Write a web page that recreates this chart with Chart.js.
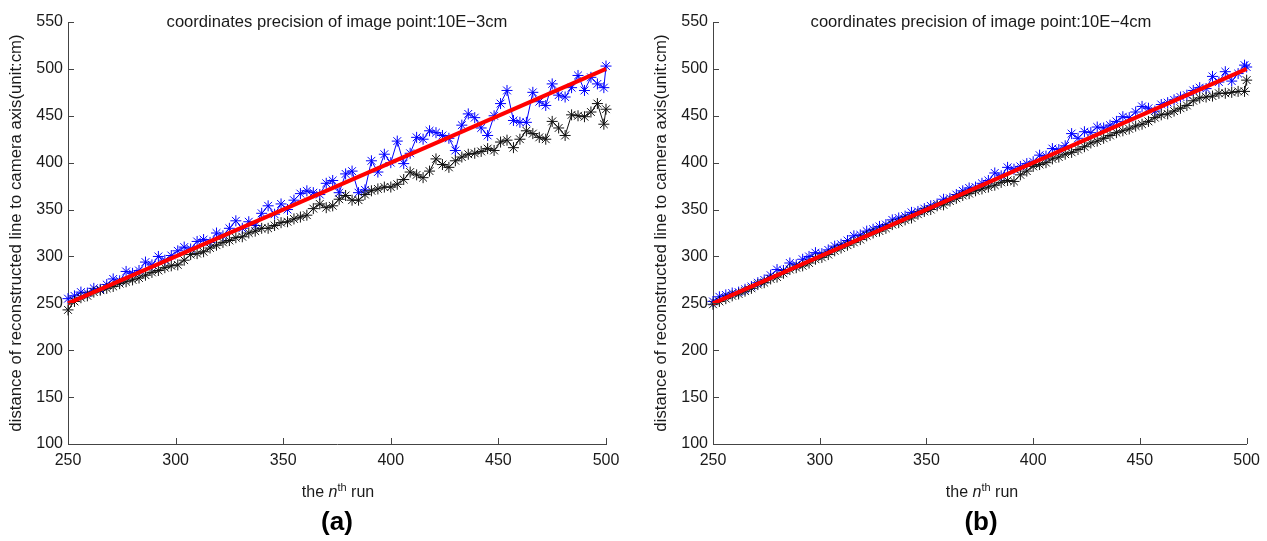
<!DOCTYPE html>
<html>
<head>
<meta charset="utf-8">
<script src="https://cdn.jsdelivr.net/npm/chart.js@4.4.1/dist/chart.umd.min.js"></script>
<style>
html,body{margin:0;padding:0;background:#fff;width:1267px;height:541px;overflow:hidden;font-family:"Liberation Sans",Arial,sans-serif;}
.panel{position:absolute;top:0;height:541px;}
.panel canvas{position:absolute;left:0;top:0;}
.txt{position:absolute;white-space:nowrap;transform:translateX(-50%);color:#1a1a1a;}
.title{top:12px;font-size:16.6px;}
.xlab{top:483px;font-size:16px;}
.xlab sup{font-size:11px;vertical-align:6px;line-height:0;}
.plab{top:506px;font-size:26px;font-weight:bold;color:#000;}
</style>
</head>
<body>
<div class="panel" id="pa" style="left:0;width:633px;"><canvas id="ca" width="633" height="541"></canvas></div>
<div class="panel" id="pb" style="left:645px;width:622px;"><canvas id="cb" width="622" height="541"></canvas></div>

<div class="txt title" style="left:337px;">coordinates precision of image point:10E−3cm</div>
<div class="txt title" style="left:981px;">coordinates precision of image point:10E−4cm</div>
<div class="txt xlab" style="left:338px;">the <i>n</i><sup>th</sup> run</div>
<div class="txt xlab" style="left:982px;">the <i>n</i><sup>th</sup> run</div>
<div class="txt plab" style="left:337px;">(a)</div>
<div class="txt plab" style="left:981px;">(b)</div>

<script>
// ---- data ----
const runs = [250,253,256,259,262,265,268,271,274,277,280,283,286,289,292,295,298,301,304,307,310,313,316,319,322,325,328,331,334,337,340,343,346,349,352,355,358,361,364,367,370,373,376,379,382,385,388,391,394,397,400,403,406,409,412,415,418,421,424,427,430,433,436,439,442,445,448,451,454,457,460,463,466,469,472,475,478,481,484,487,490,493,496,499,500];

const blueA = [255,258,262,261,266,265,270,276,274,284,
  282,285,294,291,300,296,301,306,310,308,
  316,318,315,325,322,330,338,330,337,333,
  346,354,345,356,350,360,367,370,368,366,
  378,381,368,388,391,368,371,402,390,409,
  400,423,399,410,427,425,434,432,429,426,
  413,440,452,448,437,429,450,463,477,445,
  443,443,475,465,461,484,472,470,480,493,
  477,491,484,480,503];

const blackA = [243,252,256,258,262,264,266,268,271,273,
  275,277,280,283,285,288,290,291,296,302,
  303,305,309,312,315,317,320,321,325,327,
  330,330,333,336,337,340,342,344,351,356,
  352,354,361,365,360,360,366,370,372,374,
  374,377,382,390,387,384,391,404,398,395,
  402,406,409,410,412,415,413,422,424,416,
  425,434,431,427,425,444,437,429,451,450,
  449,454,463,441,457];

const blueB = [252,257,259,261,262,265,268,272,275,280,
  286,285,293,291,297,300,304,303,307,311,
  313,317,322,323,327,329,332,334,339,341,
  343,347,348,351,354,356,361,362,366,370,
  373,374,378,381,389,386,395,393,396,399,
  401,408,407,415,414,418,431,426,433,432,
  438,437,440,444,449,448,454,460,458,455,
  462,464,467,470,472,477,480,479,492,486,
  497,487,495,504,502];

const blackB = [249,252,255,258,260,263,266,270,272,276,
  278,282,286,288,290,293,297,299,302,306,
  309,312,315,318,322,325,327,330,334,336,
  339,341,345,348,350,354,355,359,362,365,
  367,370,372,374,376,379,381,380,387,391,
  396,398,400,404,406,409,411,414,417,421,
  423,426,429,432,434,436,439,441,444,448,
  451,452,455,458,461,466,469,470,471,474,
  474,475,476,476,488];

const refX = [250, 500];
const refY = [250, 500];

const xTicks = [250,300,350,400,450,500];
const yTicks = [100,150,200,250,300,350,400,450,500,550];

const yAxisTitle = "distance of reconstructed line to camera axis(unit:cm)";

// ---- chart ----
Chart.defaults.font.family = '"Liberation Sans", Arial, sans-serif';
Chart.defaults.font.size = 16;
Chart.defaults.color = '#1a1a1a';

const pts = (xs, ys) => xs.map((x, i) => ({x: x, y: ys[i]}));

const inwardTicks = {
  id: 'inwardTicks',
  afterDatasetsDraw(chart) {
    const {ctx, chartArea: a, scales: {x, y}} = chart;
    ctx.save();
    ctx.strokeStyle = '#444';
    ctx.lineWidth = 1;
    ctx.beginPath();
    xTicks.forEach(v => {
      const px = Math.round(x.getPixelForValue(v)) + 0.5;
      ctx.moveTo(px, a.bottom); ctx.lineTo(px, a.bottom - 6);
    });
    yTicks.forEach(v => {
      const py = Math.round(y.getPixelForValue(v)) + 0.5;
      ctx.moveTo(a.left, py); ctx.lineTo(a.left + 6, py);
    });
    ctx.stroke();
    ctx.restore();
  }
};

function makeChart(id, blue, black, rightPad) {
  return new Chart(document.getElementById(id), {
    type: 'scatter',
    data: {
      datasets: [
        { data: pts(refX, refY), showLine: true, borderColor: '#ff0000', borderWidth: 4,
          pointRadius: 0, clip: false },
        { data: pts(runs, black), showLine: true, borderColor: '#111', borderWidth: 1,
          pointStyle: 'star', pointRadius: 5.5, pointBorderColor: '#111', pointBorderWidth: 1,
          pointBackgroundColor: '#111', clip: false },
        { data: pts(runs, blue), showLine: true, borderColor: '#0000ff', borderWidth: 1,
          pointStyle: 'star', pointRadius: 5.5, pointBorderColor: '#0000ff', pointBorderWidth: 1,
          pointBackgroundColor: '#0000ff', clip: false }
      ]
    },
    options: {
      responsive: false,
      animation: false,
      devicePixelRatio: 1,
      layout: { padding: { left: 0, right: rightPad, top: 22, bottom: 67 } },
      plugins: { legend: { display: false }, tooltip: { enabled: false }, title: { display: false } },
      elements: { line: { tension: 0 } },
      scales: {
        x: {
          type: 'linear', min: 250, max: 500,
          grid: { display: false, drawTicks: false },
          border: { display: true, color: '#444', width: 1 },
          ticks: { padding: 7, color: '#1a1a1a', maxRotation: 0, autoSkip: false },
          afterBuildTicks: s => { s.ticks = xTicks.map(v => ({ value: v })); },
          afterFit: s => { s.height = 30; }
        },
        y: {
          type: 'linear', min: 100, max: 550,
          grid: { display: false, drawTicks: false },
          border: { display: true, color: '#444', width: 1 },
          ticks: { padding: 5, color: '#1a1a1a', autoSkip: false },
          afterBuildTicks: s => { s.ticks = yTicks.map(v => ({ value: v })); },
          afterFit: s => { s.width = 68; },
          title: { display: true, text: yAxisTitle, color: '#1a1a1a', font: { size: 16.8 }, padding: { top: 6, bottom: 0 } }
        }
      }
    },
    plugins: [inwardTicks]
  });
}

makeChart('ca', blueA, blackA, 27);
makeChart('cb', blueB, blackB, 17);
</script>
</body>
</html>
